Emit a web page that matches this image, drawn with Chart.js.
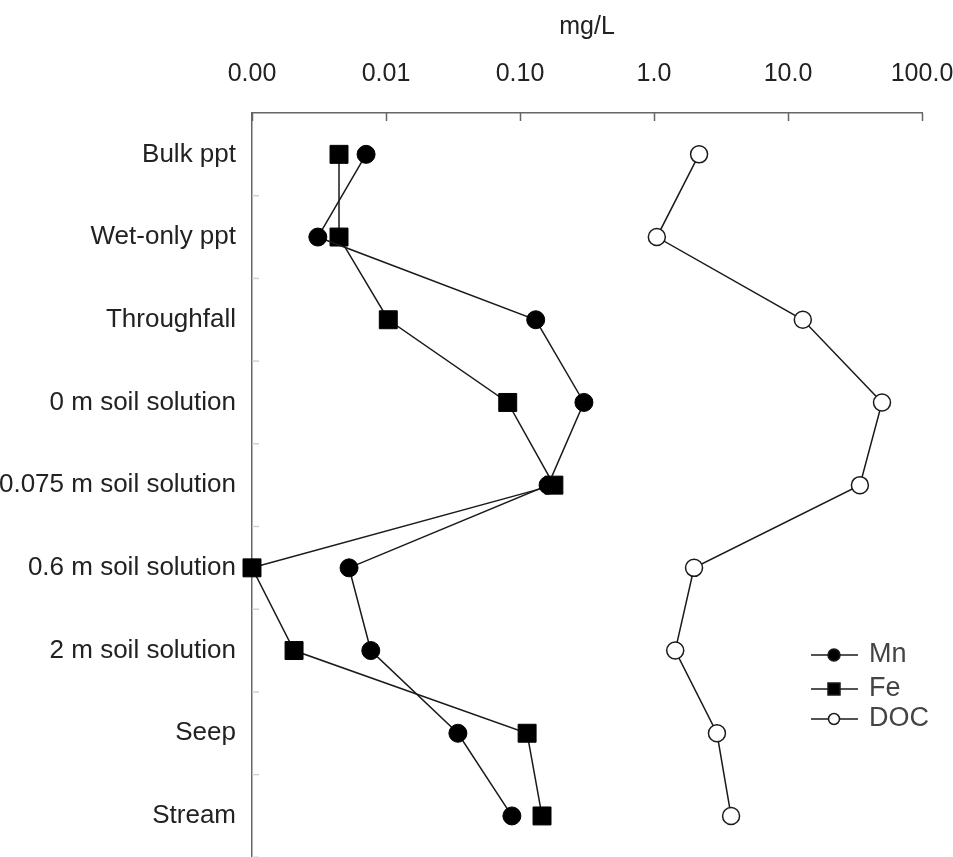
<!DOCTYPE html>
<html>
<head>
<meta charset="utf-8">
<script src="https://cdn.jsdelivr.net/npm/chart.js@4.4.0/dist/chart.umd.min.js"></script>
<style>
  html, body { margin: 0; padding: 0; background: #fff; overflow: hidden; }
  #wrap { width: 953px; height: 857px; overflow: hidden; }
</style>
</head>
<body>
<!-- el lienzo es 14px más alto: Chart.js reserva ese margen bajo el eje -->
<div id="wrap"><canvas id="chart" width="953" height="871"></canvas></div>
<script>
// datos
const categories = ["Bulk ppt", "Wet-only ppt", "Throughfall", "0 m soil solution",
  "0.075 m soil solution", "0.6 m soil solution", "2 m soil solution", "Seep", "Stream"];
const mnValues  = [0.0071, 0.0031, 0.131, 0.30, 0.162, 0.0053, 0.0077, 0.0344, 0.087];
const feValues  = [0.00446, 0.00446, 0.0104, 0.081, 0.179, 0.001, 0.00206, 0.113, 0.146];
const docValues = [2.17, 1.05, 12.9, 50.3, 34.4, 1.99, 1.44, 2.95, 3.76];
const tickValues = [0.001, 0.01, 0.1, 1, 10, 100];
const tickLabels = ["0.00", "0.01", "0.10", "1.0", "10.0", "100.0"];

const FONT = "'Liberation Sans', Arial, sans-serif";
const LINE = "#1a1a1a";

// marcas de los ejes hacia dentro
const innerTicks = {
  id: "innerTicks",
  afterDraw(chart) {
    const ctx = chart.ctx;
    const x = chart.scales.x, y = chart.scales.y;
    const area = chart.chartArea;
    ctx.save();
    ctx.lineWidth = 1.5;
    ctx.strokeStyle = "#666";
    tickValues.forEach(v => {
      const px = Math.round(x.getPixelForValue(v)) + 0.5;
      ctx.beginPath();
      ctx.moveTo(px, area.top);
      ctx.lineTo(px, area.top + 8);
      ctx.stroke();
    });
    ctx.strokeStyle = "#d0d0d0";
    const half = (y.getPixelForValue(1) - y.getPixelForValue(0)) / 2;
    for (let i = 0; i < categories.length; i++) {
      const py = y.getPixelForValue(i) + half;
      ctx.beginPath();
      ctx.moveTo(area.left, py);
      ctx.lineTo(area.left + 7, py);
      ctx.stroke();
    }
    ctx.restore();
  }
};

// leyenda con línea y marcador
const lineLegend = {
  id: "lineLegend",
  afterDraw(chart) {
    const ctx = chart.ctx;
    const rows = [655, 689, 719];
    ctx.save();
    chart.data.datasets.forEach((ds, i) => {
      const yy = rows[i];
      ctx.strokeStyle = LINE;
      ctx.lineWidth = 1.5;
      ctx.beginPath();
      ctx.moveTo(811, yy);
      ctx.lineTo(858, yy);
      ctx.stroke();
      ctx.fillStyle = ds.pointBackgroundColor;
      ctx.beginPath();
      if (ds.pointStyle === "rect") {
        ctx.rect(828, yy - 6, 12, 12);
      } else {
        ctx.arc(834, yy, ds.label === "DOC" ? 5.5 : 6, 0, Math.PI * 2);
      }
      ctx.fill();
      ctx.stroke();
      ctx.fillStyle = "#444";
      ctx.font = "27px " + FONT;
      ctx.textBaseline = "middle";
      ctx.fillText(ds.label, 869, yy);
    });
    ctx.restore();
  }
};

const ctx = document.getElementById("chart").getContext("2d");

new Chart(ctx, {
  type: "line",
  data: {
    labels: categories,
    datasets: [
      {
        label: "Mn",
        data: mnValues,
        borderColor: LINE,
        borderWidth: 1.5,
        pointStyle: "circle",
        pointRadius: 9,
        pointBackgroundColor: "#000",
        pointBorderColor: "#000",
        pointBorderWidth: 1,
      },
      {
        label: "Fe",
        data: feValues,
        borderColor: LINE,
        borderWidth: 1.5,
        pointStyle: "rect",
        pointRadius: 12.7,
        pointBackgroundColor: "#000",
        pointBorderColor: "#000",
        pointBorderWidth: 1,
      },
      {
        label: "DOC",
        data: docValues,
        borderColor: LINE,
        borderWidth: 1.5,
        pointStyle: "circle",
        pointRadius: 8.5,
        pointBackgroundColor: "#fff",
        pointBorderColor: LINE,
        pointBorderWidth: 1.5,
      },
    ],
  },
  options: {
    indexAxis: "y",
    responsive: false,
    animation: false,
    events: [],
    layout: { padding: { left: 0, right: 31, top: 0, bottom: 0 } },
    datasets: { line: { clip: false, tension: 0 } },
    plugins: {
      legend: { display: false },
      tooltip: { enabled: false },
    },
    scales: {
      x: {
        type: "logarithmic",
        position: "top",
        min: 0.001,
        max: 100,
        afterBuildTicks: (s) => { s.ticks = tickValues.map(v => ({ value: v })); },
        afterFit: (s) => {
          s.height = 113;
          s.paddingLeft = 0;
          s.paddingRight = 0;
        },
        grid: { display: false },
        border: { display: true, color: "#666", width: 1.5 },
        ticks: {
          autoSkip: false,
          maxRotation: 0,
          padding: 16,
          color: "#222",
          font: { family: FONT, size: 25 },
          callback: (v) => {
            const i = tickValues.indexOf(v);
            return i >= 0 ? tickLabels[i] : "";
          },
        },
        title: {
          display: true,
          text: "mg/L",
          color: "#222",
          font: { family: FONT, size: 25 },
          padding: { top: 12, bottom: 0 },
        },
      },
      y: {
        type: "category",
        offset: true,
        afterFit: (s) => {
          s.width = 252;
          s.paddingTop = 0;
          s.paddingBottom = 0;
        },
        grid: { display: false },
        border: { display: true, color: "#666", width: 1.5 },
        ticks: {
          autoSkip: false,
          padding: 8,
          color: "#222",
          font: { family: FONT, size: 26 },
        },
      },
    },
  },
  plugins: [innerTicks, lineLegend],
});
</script>
</body>
</html>
